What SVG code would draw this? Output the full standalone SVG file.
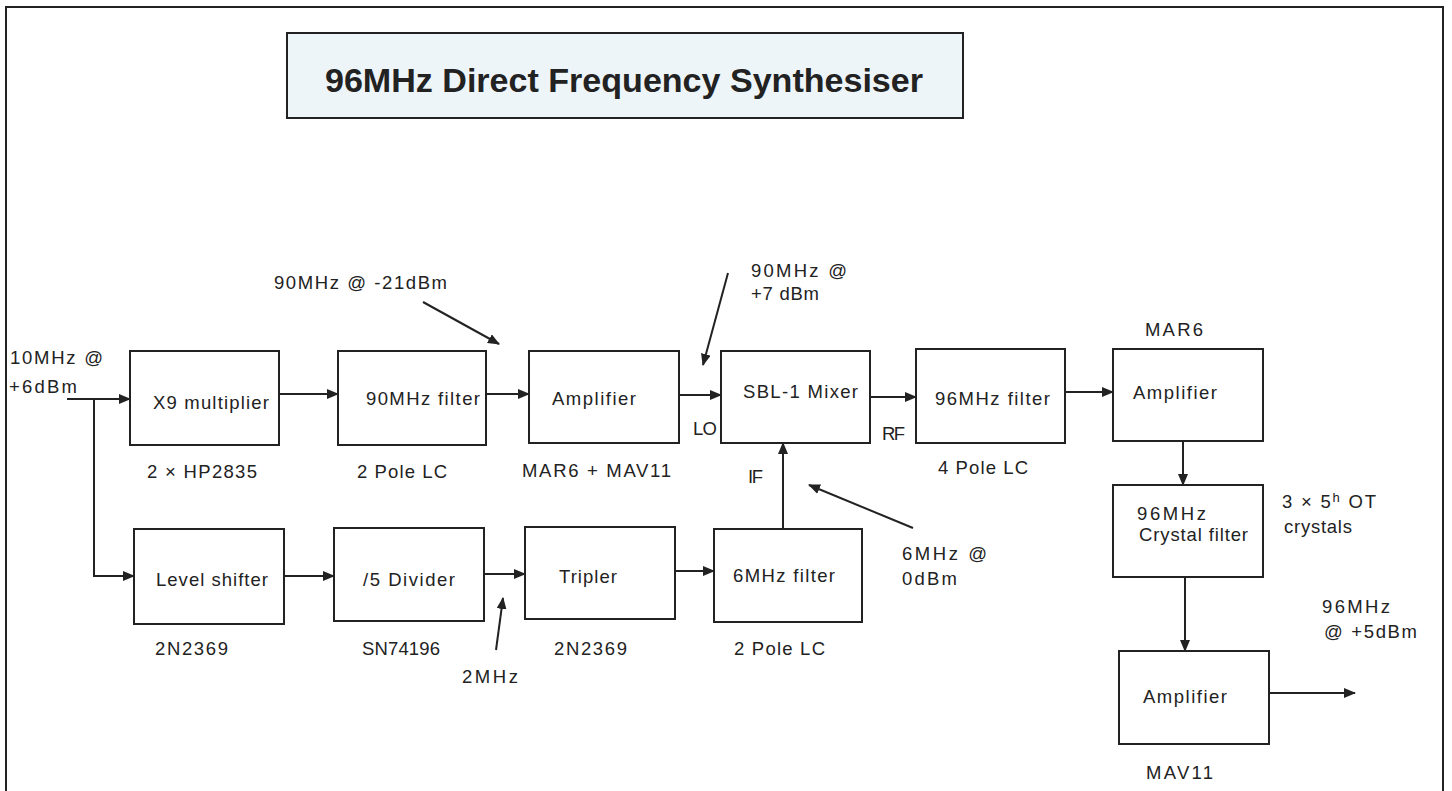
<svg xmlns="http://www.w3.org/2000/svg" width="1452" height="791" viewBox="0 0 1452 791">
<style>
.box{fill:#fff;stroke:#222;stroke-width:2}
.lbl{font-family:"Liberation Sans",Arial,sans-serif;font-size:18.5px;fill:#222}
.ttl{font-family:"Liberation Sans",Arial,sans-serif;font-size:34px;font-weight:bold;fill:#222}
.wire{fill:none;stroke:#222;stroke-width:2;marker-end:url(#ah)}
</style>
<defs>
<marker id="ah" markerUnits="userSpaceOnUse" markerWidth="12" markerHeight="10" refX="11" refY="5" orient="auto">
<path d="M0,0 L12,5 L0,10 Z" fill="#222"/>
</marker>
</defs>
<rect x="0" y="0" width="1452" height="791" fill="#fff"/>
<rect x="6" y="7" width="1437" height="800" fill="none" stroke="#222" stroke-width="2"/>

<g id="title">
<rect x="287" y="33" width="676" height="85" fill="#eef5f9" stroke="#222" stroke-width="2"/>
<text class="ttl" x="325" y="92" textLength="598" lengthAdjust="spacingAndGlyphs">96MHz Direct Frequency Synthesiser</text>
</g>

<g id="connectors">
<path class="wire" d="M67,399 H130"/>
<path class="wire" d="M94,399 V576 H134"/>
<path class="wire" d="M279,394 H338"/>
<path class="wire" d="M486,394 H529"/>
<path class="wire" d="M679,395 H721"/>
<path class="wire" d="M870,397 H916"/>
<path class="wire" d="M1065,392 H1113"/>
<path class="wire" d="M1183,441 V485"/>
<path class="wire" d="M1185,577 V651"/>
<path class="wire" d="M1269,693 H1355"/>
<path class="wire" d="M284,576 H334"/>
<path class="wire" d="M484,574 H525"/>
<path class="wire" d="M675,571 H714"/>
<path class="wire" d="M783,529 V443"/>
<path class="wire" d="M423,302 L499,344"/>
<path class="wire" d="M728,273 L703,365"/>
<path class="wire" d="M913,528 L809,485"/>
<path class="wire" d="M496,650 L503,598"/>
</g>

<g id="x9">
<rect class="box" x="130" y="351" width="149" height="94"/>
<text class="lbl" x="153" y="409" textLength="116">X9 multiplier</text>
<text class="lbl" x="147" y="478" textLength="110">2 × HP2835</text>
</g>
<g id="filter90">
<rect class="box" x="338" y="351" width="148" height="94"/>
<text class="lbl" x="366" y="405" textLength="114">90MHz filter</text>
<text class="lbl" x="357" y="478" textLength="90">2 Pole LC</text>
</g>
<g id="amp1">
<rect class="box" x="529" y="351" width="150" height="92"/>
<text class="lbl" x="552" y="405" textLength="84">Amplifier</text>
<text class="lbl" x="522" y="477" textLength="149">MAR6 + MAV11</text>
</g>
<g id="mixer">
<rect class="box" x="721" y="351" width="149" height="92"/>
<text class="lbl" x="743" y="398" textLength="115">SBL-1 Mixer</text>
</g>
<g id="filter96">
<rect class="box" x="916" y="349" width="149" height="94"/>
<text class="lbl" x="935" y="405" textLength="115">96MHz filter</text>
<text class="lbl" x="938" y="474" textLength="90">4 Pole LC</text>
</g>
<g id="amp2">
<rect class="box" x="1113" y="349" width="150" height="92"/>
<text class="lbl" x="1133" y="399" textLength="84">Amplifier</text>
<text class="lbl" x="1145" y="336" textLength="58">MAR6</text>
</g>
<g id="crystal">
<rect class="box" x="1113" y="485" width="150" height="92"/>
<text class="lbl" x="1137" y="520" textLength="69">96MHz</text>
<text class="lbl" x="1139" y="541" textLength="109">Crystal filter</text>
</g>
<g id="amp3">
<rect class="box" x="1119" y="651" width="150" height="93"/>
<text class="lbl" x="1143" y="703" textLength="84">Amplifier</text>
<text class="lbl" x="1146" y="779" textLength="67">MAV11</text>
</g>
<g id="levelshifter">
<rect class="box" x="134" y="529" width="150" height="95"/>
<text class="lbl" x="156" y="586" textLength="112">Level shifter</text>
<text class="lbl" x="155" y="655" textLength="73">2N2369</text>
</g>
<g id="divider">
<rect class="box" x="334" y="528" width="150" height="93"/>
<text class="lbl" x="363" y="586" textLength="92">/5 Divider</text>
<text class="lbl" x="362" y="655" textLength="78">SN74196</text>
</g>
<g id="tripler">
<rect class="box" x="525" y="527" width="150" height="92"/>
<text class="lbl" x="559" y="583" textLength="58">Tripler</text>
<text class="lbl" x="554" y="655" textLength="73">2N2369</text>
</g>
<g id="filter6">
<rect class="box" x="714" y="529" width="148" height="93"/>
<text class="lbl" x="733" y="582" textLength="102">6MHz filter</text>
<text class="lbl" x="734" y="655" textLength="91">2 Pole LC</text>
</g>

<g id="annotations">
<text class="lbl" x="10" y="364" textLength="93">10MHz @</text>
<text class="lbl" x="9" y="393" textLength="68">+6dBm</text>
<text class="lbl" x="274" y="289" textLength="173">90MHz @ -21dBm</text>
<text class="lbl" x="751" y="277" textLength="96">90MHz @</text>
<text class="lbl" x="751" y="300" textLength="68">+7 dBm</text>
<text class="lbl" x="693" y="435" textLength="24">LO</text>
<text class="lbl" x="882" y="440" textLength="23">RF</text>
<text class="lbl" x="748" y="483" textLength="15">IF</text>
<text class="lbl" x="902" y="560" textLength="85">6MHz @</text>
<text class="lbl" x="902" y="585" textLength="55">0dBm</text>
<text class="lbl" x="462" y="683" textLength="56">2MHz</text>
<text class="lbl" x="1282" y="508" textLength="94">3 × 5<tspan dy="-6" font-size="13">h</tspan><tspan dy="6"> OT</tspan></text>
<text class="lbl" x="1284" y="533" textLength="68">crystals</text>
<text class="lbl" x="1322" y="613" textLength="68">96MHz</text>
<text class="lbl" x="1324" y="638" textLength="93">@ +5dBm</text>
</g>
</svg>
